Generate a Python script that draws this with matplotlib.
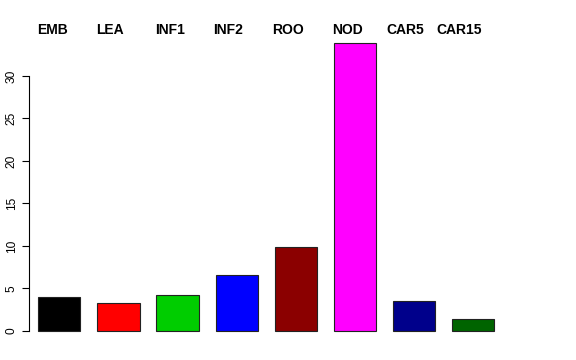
import numpy as np
import matplotlib
matplotlib.use("Agg")
import matplotlib.pyplot as plt

tissues = ["EMB", "LEA", "INF1", "INF2", "ROO", "NOD", "CAR5", "CAR15"]
values = [4.0, 3.35, 4.25, 6.6, 9.85, 33.9, 3.5, 1.4]
colors = ["black", "red", "#00CD00", "blue", "#8B0000", "magenta", "#00008B", "#006400"]

plt.rcParams['font.family'] = ['Liberation Sans', 'DejaVu Sans']

W, H = 576, 360
fig = plt.figure(figsize=(W / 100, H / 100), dpi=100)

# bar layout: width 1, gap 0.4
x_left = 0.22 + 1.4 * np.arange(len(values))
xmin, xmax = 0.0, 12.0
ymin, ymax = -1.356, 35.26
px_per_x = 42.2
ax_left = 29
ax_bottom = H - 342.5
ax_top = H - 31.3
ax = fig.add_axes([ax_left / W, ax_bottom / H, (xmax - xmin) * px_per_x / W, (ax_top - ax_bottom) / H])

ax.bar(x_left, values, width=1.0, align="edge", color=colors, edgecolor="#222222", linewidth=0.8)

ax.set_xlim(xmin, xmax)
ax.set_ylim(ymin, ymax)
for s in ["top", "right", "bottom"]:
    ax.spines[s].set_visible(False)
ax.spines["left"].set_bounds(0, 30)
ax.spines["left"].set_linewidth(0.8)
ax.set_xticks([])
ax.set_yticks(np.arange(0, 31, 5))
ax.tick_params(axis="y", length=5, width=0.8, labelsize=8.6, pad=3)
for lab in ax.get_yticklabels():
    lab.set_rotation(90)
    lab.set_va("center")

# tissue names along the top (left edges in pixels)
label_left = [36.7, 95.7, 155, 213, 272.3, 331.7, 386.7, 436]
for x, name in zip(label_left, tissues):
    fig.text(x / W, 1 - 30 / H, name, ha="left", va="center",
             fontsize=10, fontweight="bold")

fig.savefig("out.png", dpi=100)
